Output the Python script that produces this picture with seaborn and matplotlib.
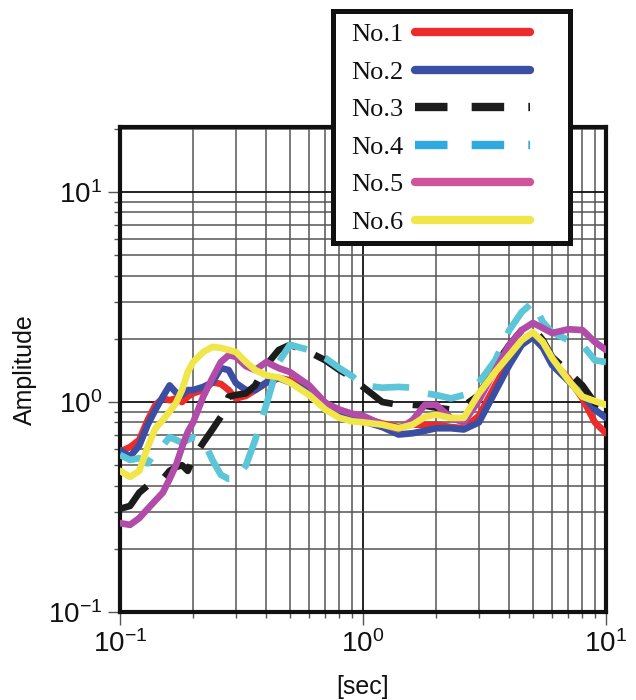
import numpy as np
import pandas as pd
import matplotlib
matplotlib.use("Agg")
import matplotlib.pyplot as plt
from matplotlib.lines import Line2D
from matplotlib.patches import Rectangle
from matplotlib.ticker import LogLocator, NullFormatter
import seaborn as sns

# periods [sec], amplitudes
period = [0.10, 0.11, 0.12, 0.13, 0.14, 0.15, 0.16, 0.17, 0.18, 0.19,
          0.20, 0.22, 0.24, 0.26, 0.28, 0.30, 0.33, 0.36, 0.40, 0.45,
          0.50, 0.60, 0.70, 0.80, 0.90, 1.0, 1.2, 1.4, 1.6, 1.8,
          2.0, 2.3, 2.6, 3.0, 3.5, 4.0, 4.5, 5.0, 5.5, 6.0,
          7.0, 8.0, 9.0, 10.0]

no1 = [0.58, 0.61, 0.66, 0.82, 0.97, 1.04, 1.02, 1.04, 1.00, 1.06,
       1.10, 1.14, 1.24, 1.22, 1.14, 1.04, 1.07, 1.14, 1.23, 1.30,
       1.27, 1.14, 0.99, 0.89, 0.86, 0.84, 0.79, 0.76, 0.78, 0.78,
       0.78, 0.76, 0.75, 0.86, 1.20, 1.58, 1.95, 2.03, 1.85, 1.55,
       1.30, 1.04, 0.80, 0.71]
no2 = [0.59, 0.55, 0.62, 0.78, 0.92, 1.06, 1.20, 1.11, 1.08, 1.14,
       1.14, 1.18, 1.24, 1.45, 1.42, 1.23, 1.14, 1.14, 1.24, 1.30,
       1.24, 1.12, 0.97, 0.87, 0.83, 0.81, 0.76, 0.70, 0.71, 0.73,
       0.75, 0.75, 0.74, 0.80, 1.12, 1.50, 1.87, 2.04, 1.81, 1.50,
       1.26, 1.08, 0.92, 0.84]
no3 = [0.31, 0.32, 0.37, 0.40, 0.41, 0.43, 0.47, 0.49, 0.50, 0.47,
       0.54, 0.64, 0.74, 0.85, 1.06, 1.08, 1.10, 1.20, 1.50, 1.77,
       1.87, 1.73, 1.58, 1.42, 1.31, 1.18, 1.00, 0.97, 0.97, 0.96,
       0.94, 0.92, 0.96, 1.08, 1.50, 1.87, 2.20, 2.27, 1.97, 1.64,
       1.39, 1.20, 0.99, 0.94]
no4 = [0.56, 0.53, 0.54, 0.51, 0.58, 0.62, 0.68, 0.66, 0.64, 0.66,
       0.68, 0.66, 0.53, 0.45, 0.43, 0.43, 0.50, 0.66, 0.97, 1.55,
       1.87, 1.77, 1.62, 1.45, 1.33, 1.20, 1.17, 1.18, 1.17, 1.10,
       1.08, 1.04, 1.08, 1.24, 1.58, 2.20, 2.68, 2.99, 2.40, 2.15,
       1.97, 1.87, 1.58, 1.55]
no5 = [0.265, 0.26, 0.28, 0.31, 0.34, 0.37, 0.43, 0.50, 0.61, 0.72,
       0.80, 1.06, 1.30, 1.55, 1.67, 1.64, 1.48, 1.42, 1.55, 1.45,
       1.39, 1.20, 0.99, 0.92, 0.88, 0.86, 0.78, 0.74, 0.82, 0.97,
       0.97, 0.84, 0.80, 1.02, 1.42, 1.87, 2.20, 2.38, 2.25, 2.13,
       2.22, 2.20, 1.93, 1.77]
no6 = [0.47, 0.44, 0.47, 0.61, 0.75, 0.82, 0.90, 0.99, 1.14, 1.39,
       1.55, 1.73, 1.83, 1.81, 1.77, 1.73, 1.55, 1.42, 1.34, 1.31,
       1.24, 1.08, 0.92, 0.84, 0.81, 0.80, 0.78, 0.75, 0.78, 0.85,
       0.87, 0.84, 0.84, 1.10, 1.39, 1.67, 1.97, 2.15, 1.93, 1.62,
       1.27, 1.06, 1.01, 0.97]

labels = ["No.1", "No.2", "No.3", "No.4", "No.5", "No.6"]
colors = ["#ee2b2b", "#3a4ea3", "#1c1c1c", "#5cc6d8", "#b24ca8", "#f0e64a"]
legend_colors = ["#ee2b2b", "#3a4ea3", "#1c1c1c", "#2eaae0", "#d0549c", "#f0e64a"]
dashed = [False, False, True, True, False, False]
series = [no1, no2, no3, no4, no5, no6]

sns.set_style("ticks")
plt.rcParams["font.family"] = ["Liberation Sans", "DejaVu Sans"]
plt.rcParams["mathtext.default"] = "regular"

fig = plt.figure(figsize=(6.36, 7), dpi=100)
ax = fig.add_axes([120 / 636, 1 - 612 / 700, 486 / 636, 485 / 700])

ax.set_xscale("log")
ax.set_yscale("log")
ax.set_xlim(0.1, 10)
ax.set_ylim(0.1, 20.4)

# draw order roughly as in the original
for i in [0, 1, 5, 3, 2, 4]:
    ls = (0, (5.5, 3)) if dashed[i] else "-"
    sns.lineplot(x=period, y=series[i], ax=ax, color=colors[i], lw=4.8,
                 linestyle=ls, legend=False, zorder=3 + i * 0.1)

ax.xaxis.set_major_locator(LogLocator(base=10, numticks=10))
ax.yaxis.set_major_locator(LogLocator(base=10, numticks=10))
ax.xaxis.set_minor_locator(LogLocator(base=10, subs=np.arange(2, 10), numticks=20))
ax.yaxis.set_minor_locator(LogLocator(base=10, subs=np.arange(2, 10), numticks=20))
ax.xaxis.set_minor_formatter(NullFormatter())
ax.yaxis.set_minor_formatter(NullFormatter())

ax.grid(which="major", color="#111111", lw=1.3)
ax.grid(which="minor", color="#555555", lw=1.1)
ax.set_axisbelow(True)

ax.tick_params(which="major", direction="out", length=9, width=1.0,
               color="#555555", labelsize=20, labelcolor="#111111", pad=4)
ax.tick_params(which="minor", direction="out", length=4.5, width=1.0,
               color="#555555")
for sp in ax.spines.values():
    sp.set_linewidth(3)
    sp.set_color("#111111")

ax.set_xlabel("[sec]", fontsize=18, labelpad=12, color="#111111")
ax.set_ylabel("Amplitude", fontsize=18, labelpad=8, color="#111111")

# legend frame drawn separately (wider on the right than the entries)
frame = Rectangle((332.5 / 636, 1 - 242.5 / 700), 237 / 636, 232 / 700,
                  transform=fig.transFigure, facecolor="white",
                  edgecolor="#111111", lw=3.6, zorder=4)
fig.patches.append(frame)

handles = []
for i in range(6):
    ls = (0, (3.9, 2.9)) if dashed[i] else "-"
    handles.append(Line2D([0], [0], color=legend_colors[i], lw=6, linestyle=ls))

leg = fig.legend(handles, labels, loc="upper left",
                 bbox_to_anchor=(351 / 636, 1 - 23 / 700),
                 prop={"family": "Liberation Serif", "size": 19},
                 handlelength=4.36, handletextpad=0.45, labelspacing=0.53,
                 borderpad=0, borderaxespad=0, frameon=False,
                 markerfirst=False)
leg.set_zorder(5)
for t in leg.get_texts():
    t.set_color("#111111")

fig.savefig("out.png", dpi=100)
